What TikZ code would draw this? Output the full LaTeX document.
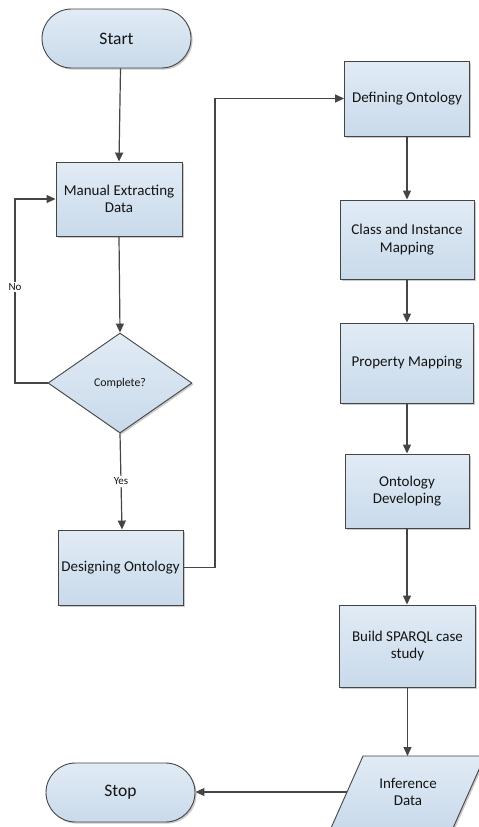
\documentclass[tikz,border=0pt]{standalone}
\usepackage{fontspec}
\setmainfont{Carlito}
\usetikzlibrary{arrows.meta,shapes.geometric,shadows,calc}

\definecolor{edgegray}{HTML}{454545}
\definecolor{filltop}{HTML}{E1EBF5}
\definecolor{fillbot}{HTML}{C9DAEB}
\definecolor{txt}{HTML}{141414}

\tikzset{
  shape look/.style={draw=edgegray, line width=0.9pt, top color=filltop, bottom color=fillbot,
    drop shadow={shadow xshift=1.6pt, shadow yshift=-1.6pt, opacity=0.35, fill=black!60}},
  shape base/.style={shape look, text=txt, align=center, inner sep=2pt},
  procbox/.style={shape base, rectangle, font=\fontsize{15}{17.6}\selectfont},
  termbox/.style={shape base, rectangle, minimum width=149pt, minimum height=59pt,
    rounded corners=29.5pt, font=\fontsize{17.5}{21}\selectfont},
  decbox/.style={shape base, diamond, minimum width=144pt, minimum height=100pt,
    inner sep=0pt, font=\fontsize{11.8}{14}\selectfont},
  iotext/.style={text=txt, align=center, inner sep=2pt, font=\fontsize{15}{17.6}\selectfont},
  flow/.style={draw=edgegray, line width=1.2pt, -{Triangle[length=9pt,width=8pt]}},
  edgelabel/.style={fill=white, inner sep=1.5pt, text=txt, font=\fontsize{11}{13}\selectfont}
}

\begin{document}
\begin{tikzpicture}[x=1pt, y=-1pt]
  \useasboundingbox (0,0) rectangle (479,827);
  \clip (0,0) rectangle (479,827);

  % left column
  \node[termbox] (start) at (116.5,38.5) {Start};
  \node[procbox, minimum width=126pt, minimum height=74pt] (manual) at (119,199) {Manual Extracting\\Data};
  \node[decbox] (dec) at (120,383) {Complete?};
  \node[procbox, minimum width=125pt, minimum height=75pt] (design) at (120.5,567.5) {Designing Ontology};
  \node[termbox] (stop) at (120.5,792.5) {Stop};

  % right column
  \node[procbox, minimum width=125pt, minimum height=75pt] (define) at (407,98.5) {Defining Ontology};
  \node[procbox, minimum width=134pt, minimum height=79pt] (classmap) at (407,239.5) {Class and Instance\\Mapping};
  \node[procbox, minimum width=133pt, minimum height=80pt] (propmap) at (407,363) {Property Mapping};
  \node[procbox, minimum width=124pt, minimum height=74pt] (ontdev) at (407,491) {Ontology\\Developing};
  \node[procbox, minimum width=136pt, minimum height=82pt] (sparql) at (407.5,646) {Build SPARQL case\\study};

  % data (parallelogram) symbol
  \coordinate (inferc) at (408,792);
  \path[shape look] ($(inferc)+(-45,-36)$) -- ($(inferc)+(77,-36)$)
    -- ($(inferc)+(45,36)$) -- ($(inferc)+(-77,36)$) -- cycle;
  \node[iotext] (infer) at (inferc) {Inference\\Data};
  \coordinate (infertop) at ($(inferc)+(0,-36)$);
  \coordinate (inferleft) at ($(inferc)+(-61,0)$);

  % bend points of the routed connectors
  \coordinate (loopx) at (15,290);
  \coordinate (jogx) at (215,300);

  % connectors
  \draw[flow] ([xshift=4pt]start.south) -- (manual.north);
  \draw[flow] (manual.south) -- (dec.north);
  \draw[flow] (dec.west) -| (loopx) |- (manual.west);
  \node[edgelabel] (nolabel) at (15,287) {No};
  \draw[flow] (dec.south) -- node[edgelabel] (yeslabel) {Yes} ([xshift=1.5pt]design.north);
  \draw[flow] (design.east) -| (jogx) |- (define.west);
  \draw[flow] (define.south) -- (classmap.north);
  \draw[flow] (classmap.south) -- (propmap.north);
  \draw[flow] (propmap.south) -- (ontdev.north);
  \draw[flow] (ontdev.south) -- (ontdev.south |- sparql.north);
  \draw[flow] (sparql.south) -- (sparql.south |- infertop);
  \draw[flow] (inferleft) -- (inferleft -| stop.east);
\end{tikzpicture}
\end{document}
